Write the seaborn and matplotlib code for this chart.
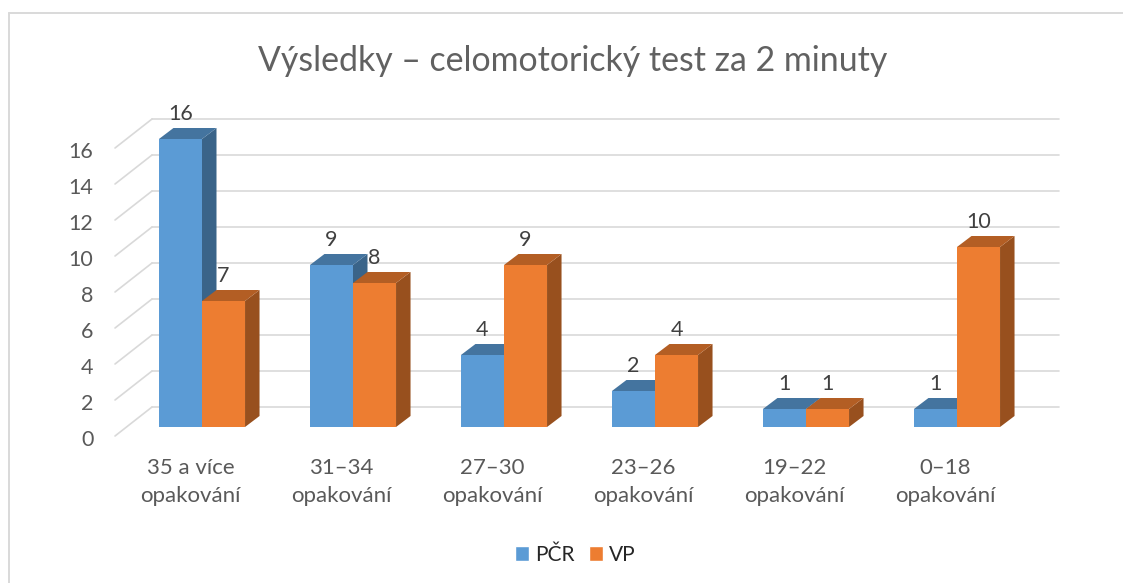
import pandas as pd
import numpy as np
import matplotlib.pyplot as plt
import seaborn as sns
from matplotlib.lines import Line2D
from matplotlib.patches import Polygon
from matplotlib.transforms import ScaledTranslation

# data
categories = ["35 a více\nopakování", "31–34\nopakování", "27–30\nopakování",
              "23–26\nopakování", "19–22\nopakování", "0–18\nopakování"]
pcr = [16, 9, 4, 2, 1, 1]
vp = [7, 8, 9, 4, 1, 10]
y_ticks = [0, 2, 4, 6, 8, 10, 12, 14, 16]

W, H, DPI = 1123, 583, 100
PX_X = 151.0  # px for one category
PX_Y = 18.0   # px for one unit
px = 72 / DPI

sns.set_theme(style="white")
plt.rcParams['font.family'] = ['Lato', 'DejaVu Sans']

df = pd.DataFrame({
    "kat": categories * 2,
    "pocet": pcr + vp,
    "serie": ["PČR"] * 6 + ["VP"] * 6,
})

fig = plt.figure(figsize=(W / DPI, H / DPI), dpi=DPI)
ax = fig.add_axes([126.5 / W, (H - 427) / H, 906 / W, 324 / H])

sns.barplot(data=df, x="kat", y="pocet", hue="serie", hue_order=["PČR", "VP"],
            palette=["#5B9BD5", "#ED7D31"], width=0.57, saturation=1,
            errorbar=None, ax=ax)
ax.set_ylim(0, 18)
ax.set_xlim(-0.5, 5.5)
ax.set_xlabel("")
ax.set_ylabel("")
sns.despine(ax=ax, left=True, bottom=True)
ax.patch.set_alpha(0)

# depth of the fake 3D
dx = 14.5 / PX_X
dy = 11 / PX_Y
colors3d = [("#3A6489", "#44749F"), ("#98501E", "#B35E24")]

for i, cont in enumerate(ax.containers):
    side_c, top_c = colors3d[i]
    z = 3 + i
    for bar in cont:
        x0, x1 = bar.get_x(), bar.get_x() + bar.get_width()
        h = bar.get_height()
        ax.add_patch(Polygon([(x1, 0), (x1 + dx, dy), (x1 + dx, h + dy), (x1, h)],
                             fc=side_c, ec="none", zorder=z, clip_on=False))
        ax.add_patch(Polygon([(x0, h), (x0 + dx, h + dy), (x1 + dx, h + dy), (x1, h)],
                             fc=top_c, ec="none", zorder=z, clip_on=False))
        bar.set_zorder(z + 0.5)
        bar.set_linewidth(0)
        ax.annotate(str(int(h)), (x0 + bar.get_width() / 2, h), xytext=(0, 25 * px),
                    textcoords="offset points", ha="center", va="center",
                    fontsize=15.5, color="#404040", zorder=10, annotation_clip=False)

# gridlines on the back wall + side wall
grid_c = "#D9D9D9"
back_y = 20 / PX_Y
for t in y_ticks:
    ax.plot([-0.331, 5.675], [t + back_y, t + back_y], color=grid_c, lw=1.2,
            zorder=1, clip_on=False)
    ax.plot([-0.576, -0.331], [t - 9 / PX_Y, t + back_y], color=grid_c, lw=1.2,
            zorder=1, clip_on=False)

ax.set_yticks(y_ticks)
ax.tick_params(axis="y", length=0, pad=33 * px, labelsize=15.5, labelcolor="#595959")
ax.tick_params(axis="x", length=0, pad=31 * px, labelsize=16, labelcolor="#595959")
for lab in ax.get_yticklabels():
    lab.set_transform(lab.get_transform() + ScaledTranslation(0, -11 / 72 * px, fig.dpi_scale_trans))
for lab in ax.get_xticklabels():
    lab.set_transform(lab.get_transform() + ScaledTranslation(-11.5 / 72 * px, 0, fig.dpi_scale_trans))
    lab.set_linespacing(1.5)

fig.text(573 / W, 1 - 61 / H, "Výsledky – celomotorický test za 2 minuty",
         ha="center", va="center", fontsize=24.4, color="#616161")

sns.move_legend(ax, "center", bbox_to_anchor=(575 / W, 1 - 555 / H),
                bbox_transform=fig.transFigure, ncol=2, frameon=False, title=None,
                fontsize=15, handlelength=0.7, handleheight=0.7,
                handletextpad=0.25, columnspacing=0.7)

# chart frame, only left and top are in the picture
fig.add_artist(Line2D([9 / W, 9 / W], [0, 1 - 13 / H], color="#D9D9D9", lw=1.4))
fig.add_artist(Line2D([9 / W, 1], [1 - 13 / H, 1 - 13 / H], color="#D9D9D9", lw=1.4))

fig.savefig("out.png", dpi=DPI)
